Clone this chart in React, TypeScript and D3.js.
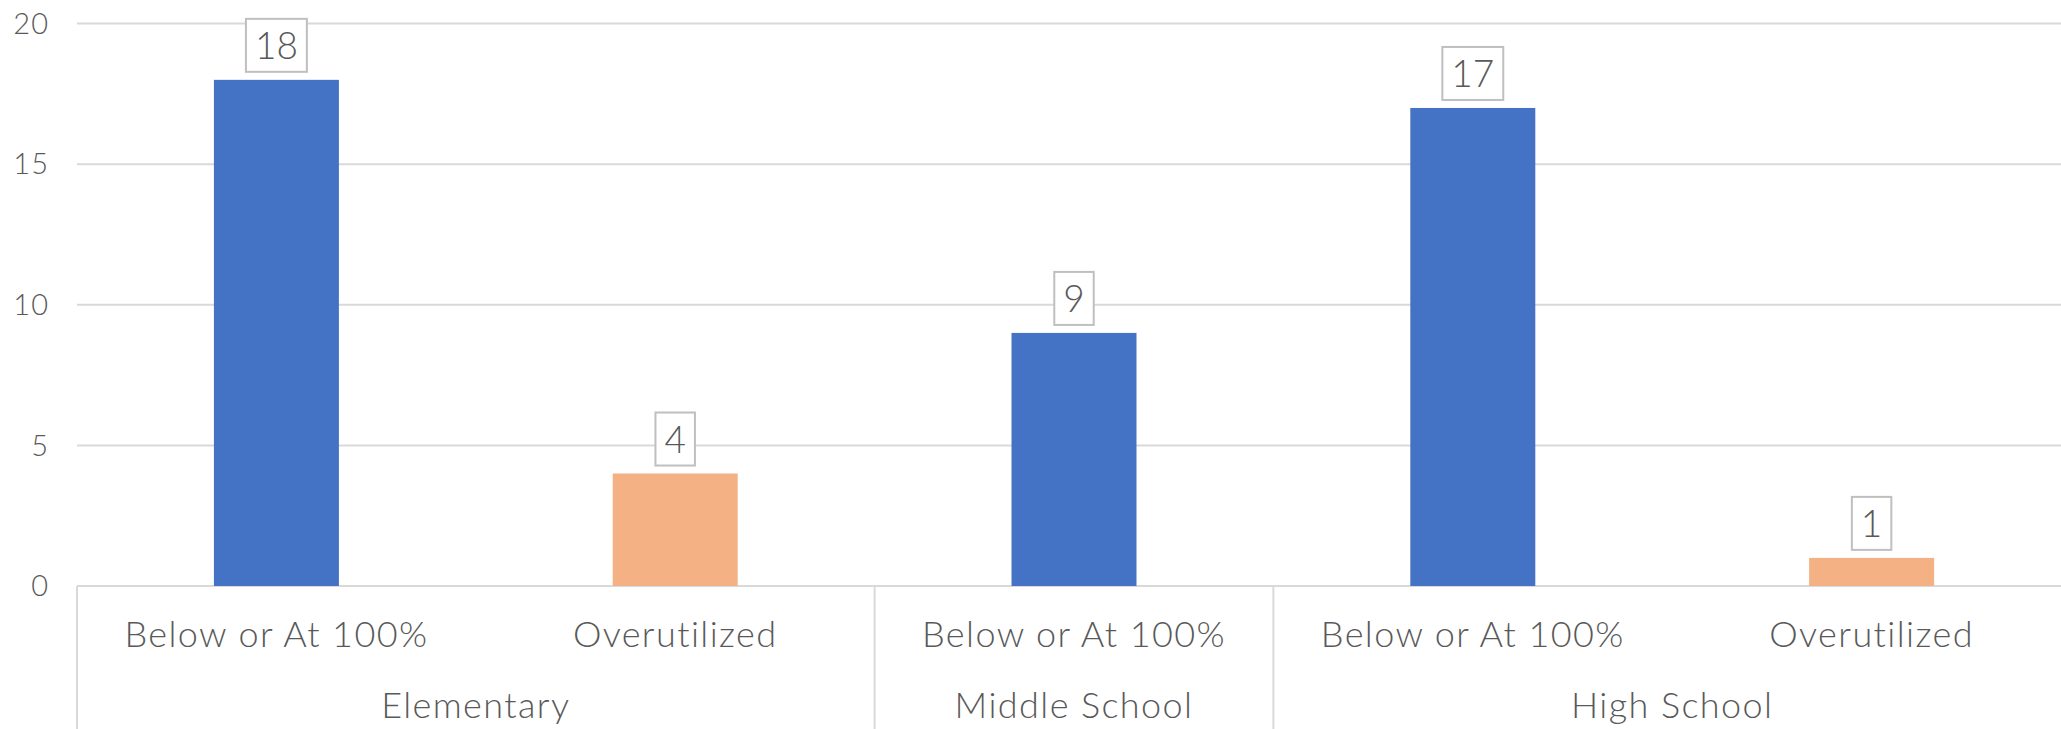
import React, { useRef, useEffect } from "react";
import * as d3 from "d3";

const groupLabels = ["Elementary", "Elementary", "Middle School", "High School", "High School"];
const categoryLabels = ["Below or At 100%", "Overutilized", "Below or At 100%", "Below or At 100%", "Overutilized"];
const values = [18, 4, 9, 17, 1];
const yTicks = [0, 5, 10, 15, 20];

const colorFor = (cat: string) => (cat === "Overutilized" ? "#F4B183" : "#4472C4");

const App = () => {
  const svgRef = useRef<SVGSVGElement>(null);

  useEffect(() => {
    const w = 2061;
    const h = 729;
    const font = "Lato, 'Open Sans', sans-serif";
    const svg = d3.select(svgRef.current).attr("width", w).attr("height", h);
    svg.selectAll("*").remove();

    const keys = values.map((_, i) => `${groupLabels[i]}|${categoryLabels[i]}|${i}`);

    // 5 equal slots, the last one runs past the right edge
    const xScale = d3
      .scaleBand<string>()
      .domain(keys)
      .range([77, 2071])
      .paddingInner(0.6866)
      .paddingOuter(0.3433);
    const step = xScale.step();

    const yScale = d3.scaleLinear().domain([0, 20]).range([586, 23.6]);

    // gridlines
    svg
      .append("g")
      .selectAll("line")
      .data(yTicks)
      .join("line")
      .attr("x1", 77)
      .attr("x2", w)
      .attr("y1", (d) => yScale(d))
      .attr("y2", (d) => yScale(d))
      .attr("stroke", "#d9d9d9")
      .attr("stroke-width", 2);

    // y tick labels
    svg
      .append("g")
      .selectAll("text")
      .data(yTicks)
      .join("text")
      .attr("x", 49)
      .attr("y", (d) => yScale(d))
      .attr("dy", "0.35em")
      .attr("text-anchor", "end")
      .attr("font-family", font)
      .attr("font-weight", 300)
      .attr("font-size", 29)
      .attr("letter-spacing", 1)
      .attr("fill", "#595959")
      .text((d) => d);

    // bars
    svg
      .append("g")
      .selectAll("rect")
      .data(values)
      .join("rect")
      .attr("x", (_, i) => xScale(keys[i])!)
      .attr("width", xScale.bandwidth())
      .attr("y", (d) => yScale(d))
      .attr("height", (d) => yScale(0) - yScale(d))
      .attr("fill", (_, i) => colorFor(categoryLabels[i]));

    // data labels with boxes
    const labels = svg
      .append("g")
      .selectAll("g")
      .data(values)
      .join("g")
      .attr("transform", (d, i) => {
        const cx = xScale(keys[i])! + xScale.bandwidth() / 2;
        return `translate(${cx}, ${yScale(d) - 8})`;
      });
    labels
      .append("text")
      .attr("y", -13)
      .attr("text-anchor", "middle")
      .attr("font-family", font)
      .attr("font-weight", 300)
      .attr("font-size", 37)
      .attr("fill", "#595959")
      .text((d) => d);
    labels.each(function () {
      const g = d3.select(this);
      const tw = (g.select("text").node() as SVGTextElement).getComputedTextLength();
      const bw = tw + 18;
      g.insert("rect", "text")
        .attr("x", -bw / 2)
        .attr("y", -53)
        .attr("width", bw)
        .attr("height", 53)
        .attr("fill", "#fff")
        .attr("stroke", "#bfbfbf")
        .attr("stroke-width", 2);
    });

    // category labels
    svg
      .append("g")
      .selectAll("text")
      .data(categoryLabels)
      .join("text")
      .attr("x", (_, i) => xScale(keys[i])! + xScale.bandwidth() / 2)
      .attr("y", 647)
      .attr("text-anchor", "middle")
      .attr("font-family", font)
      .attr("font-weight", 300)
      .attr("font-size", 36)
      .attr("letter-spacing", 1.4)
      .attr("fill", "#595959")
      .text((d) => d);

    // group spans
    const groups = d3.groups(
      keys.map((k, i) => ({ k, g: groupLabels[i] })),
      (d) => d.g
    );
    const spans = groups.map(([name, items]) => {
      const x0 = xScale(items[0].k)! - (step - xScale.bandwidth()) / 2;
      const x1 = xScale(items[items.length - 1].k)! + xScale.bandwidth() + (step - xScale.bandwidth()) / 2;
      return { name, x0, x1 };
    });

    svg
      .append("g")
      .selectAll("line")
      .data(spans)
      .join("line")
      .attr("x1", (d) => d.x0)
      .attr("x2", (d) => d.x0)
      .attr("y1", yScale(0))
      .attr("y2", h)
      .attr("stroke", "#d9d9d9")
      .attr("stroke-width", 2);

    svg
      .append("g")
      .selectAll("text")
      .data(spans)
      .join("text")
      .attr("x", (d) => (d.x0 + d.x1) / 2)
      .attr("y", 718)
      .attr("text-anchor", "middle")
      .attr("font-family", font)
      .attr("font-weight", 300)
      .attr("font-size", 36)
      .attr("letter-spacing", 1.4)
      .attr("fill", "#595959")
      .text((d) => d.name);
  }, []);

  return (
    <div style={{ position: "absolute", left: 0, top: 0 }}>
      <svg ref={svgRef} style={{ display: "block", background: "#fff" }}></svg>
    </div>
  );
};

export default App;
